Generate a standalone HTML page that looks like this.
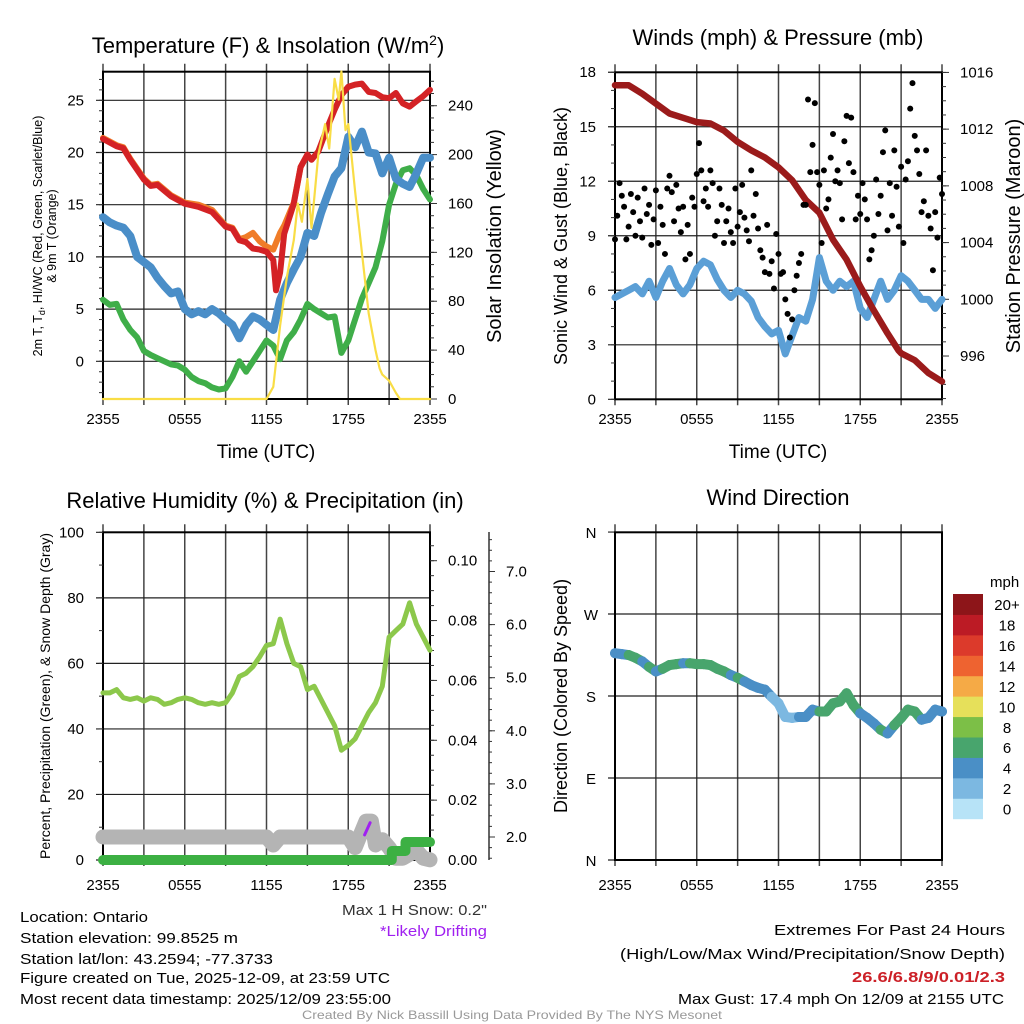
<!DOCTYPE html>
<html><head><meta charset="utf-8"><style>
html,body{margin:0;padding:0;background:#fff;}
svg{display:block;font-family:"Liberation Sans",sans-serif;}
</style></head><body>
<svg id="fig" width="1024" height="1024" viewBox="0 0 1024 1024" xmlns="http://www.w3.org/2000/svg">
<rect width="1024" height="1024" fill="#fff"/>
<text x="268" y="53" font-size="22" text-anchor="middle">Temperature (F) &amp; Insolation (W/m<tspan dy="-8" font-size="14">2</tspan><tspan dy="8">)</tspan></text>
<text x="778" y="45" font-size="22" text-anchor="middle">Winds (mph) &amp; Pressure (mb)</text>
<text x="265" y="508" font-size="22" text-anchor="middle">Relative Humidity (%) &amp; Precipitation (in)</text>
<text x="778" y="505" font-size="22" text-anchor="middle">Wind Direction</text>
<text x="266" y="458" font-size="19" text-anchor="middle">Time (UTC)</text>
<text x="778" y="458" font-size="19" text-anchor="middle">Time (UTC)</text>
<text transform="translate(42,236) rotate(-90)" font-size="12.5" text-anchor="middle">2m T, T<tspan font-size="9" dy="3">d</tspan><tspan dy="-3">, HI/WC (Red, Green, Scarlet/Blue)</tspan></text>
<text transform="translate(56,236) rotate(-90)" font-size="12.5" text-anchor="middle">&amp; 9m T (Orange)</text>
<text transform="translate(501,236) rotate(-90)" font-size="20" text-anchor="middle">Solar Insolation (Yellow)</text>
<text transform="translate(567,236) rotate(-90)" font-size="18" text-anchor="middle">Sonic Wind &amp; Gust (Blue, Black)</text>
<text transform="translate(1020,236) rotate(-90)" font-size="20" text-anchor="middle">Station Pressure (Maroon)</text>
<text transform="translate(50,696) rotate(-90)" font-size="14" text-anchor="middle">Percent, Precipitation (Green), &amp; Snow Depth (Gray)</text>
<text transform="translate(567,696) rotate(-90)" font-size="18" text-anchor="middle">Direction (Colored By Speed)</text>
<g font-size="15">
<text x="20" y="922" textLength="128" lengthAdjust="spacingAndGlyphs">Location: Ontario</text>
<text x="20" y="943" textLength="218" lengthAdjust="spacingAndGlyphs">Station elevation: 99.8525 m</text>
<text x="20" y="964" textLength="253" lengthAdjust="spacingAndGlyphs">Station lat/lon: 43.2594; -77.3733</text>
<text x="20" y="983" textLength="370" lengthAdjust="spacingAndGlyphs">Figure created on Tue, 2025-12-09, at 23:59 UTC</text>
<text x="20" y="1004" textLength="371" lengthAdjust="spacingAndGlyphs">Most recent data timestamp: 2025/12/09 23:55:00</text>
<text x="342" y="915" fill="#333" textLength="145" lengthAdjust="spacingAndGlyphs">Max 1 H Snow: 0.2"</text>
<text x="380" y="936" fill="#a020f0" textLength="107" lengthAdjust="spacingAndGlyphs">*Likely Drifting</text>
<text x="774" y="935" textLength="231" lengthAdjust="spacingAndGlyphs">Extremes For Past 24 Hours</text>
<text x="620" y="959" textLength="385" lengthAdjust="spacingAndGlyphs">(High/Low/Max Wind/Precipitation/Snow Depth)</text>
<text x="852" y="982" fill="#cc2027" font-weight="bold" textLength="153" lengthAdjust="spacingAndGlyphs">26.6/6.8/9/0.01/2.3</text>
<text x="678" y="1004" textLength="326" lengthAdjust="spacingAndGlyphs">Max Gust: 17.4 mph On 12/09 at 2155 UTC</text>
<text x="302" y="1019" font-size="12" fill="#999" textLength="420" lengthAdjust="spacingAndGlyphs">Created By Nick Bassill Using Data Provided By The NYS Mesonet</text>
</g>
</svg>
<script>
// ---------- data ----------
const xLabels = ["2355","0555","1155","1755","2355"];
const halfHours = [0,0.5,1,1.5,2,2.5,3,3.5,4,4.5,5,5.5,6,6.5,7,7.5,8,8.5,9,9.5,10,10.5,11,11.5,12,12.5,13,13.5,14,14.5,15,15.5,16,16.5,17,17.5,18,18.5,19,19.5,20,20.5,21,21.5,22,22.5,23,23.5,24];
const redTimes = [0,1,1.5,2,3,3.5,4,5,6,7,8,9,9.5,10,10.5,11,11.5,12,12.5,12.7,13,13.3,14,14.5,15,15.3,15.8,16.5,17,17.5,18,18.5,19,19.5,20,20.5,21,21.5,22,22.5,23,23.5,24];
const redTemp = [21.3,20.6,20.4,19.3,17.4,16.8,16.9,15.8,15.1,14.8,14.3,12.9,12.7,11.6,11.4,10.8,10.7,10.5,9.7,6.8,8.5,12.2,15.1,18.6,19.8,19.3,20.1,22.5,24.1,25.5,26.3,26.5,26.6,25.8,25.7,25.3,25.2,25.7,24.7,24.4,24.9,25.4,26.0];
const orangeTimes = [0,1,1.5,2,3,3.5,4,5,6,7,8,9,9.5,10,10.5,11,11.5,12,12.5,13,13.3,14,14.5,15];
const orangeTemp = [21.4,20.7,20.5,19.4,17.5,16.9,17.0,15.9,15.2,15.0,14.5,13.0,12.8,11.7,11.9,12.3,11.5,11.0,10.7,12.3,13.0,15.2,18.6,19.8];
const dewpoint = [13.8,13.3,13.0,12.8,12.0,10.0,9.5,9.0,8.0,7.2,6.5,6.7,5.0,4.5,4.8,4.5,5.0,4.6,4.0,3.5,2.2,3.5,4.3,4.0,3.5,3.0,5.9,7.5,8.8,10.0,12.3,12.0,14.2,16.0,17.7,18.5,21.5,20.5,22.0,20.0,19.9,18.0,19.5,17.5,17.0,16.7,18.0,19.5,19.5];
const feelsLike = [5.9,5.4,5.5,4.0,3.0,2.3,1.0,0.6,0.3,0.0,-0.3,-0.4,-0.8,-1.5,-1.9,-2.1,-2.5,-2.7,-2.6,-1.5,0.0,-1.0,0.0,1.0,2.0,1.5,0.2,2.0,2.8,4.0,5.5,5.0,4.6,4.2,4.3,0.8,2.0,4.0,6.0,7.5,9.0,11.5,15.0,17.0,18.3,18.5,17.8,16.5,15.5];
const solarTimes = [0,11.8,12,12.5,13,13.5,14,14.3,14.6,15,15.3,15.8,16.3,16.6,17,17.3,17.5,17.8,18,18.5,19,19.5,20,20.3,20.5,21,21.5,21.8,24];
const solar = [0,0,0,10,60,100,130,160,145,180,140,200,225,205,262,245,268,220,225,170,120,70,40,25,20,15,5,0,0];
const windSpeed = [5.6,5.8,6.0,6.2,5.8,6.5,5.6,6.5,7.2,6.3,5.8,6.3,7.2,7.6,7.4,6.6,6.0,5.6,6.0,5.8,5.4,4.5,4.0,3.6,3.8,2.5,3.5,4.5,4.3,5.5,7.8,6.5,6.0,6.5,6.2,6.5,5.0,4.5,5.5,6.5,5.5,6.0,6.8,6.5,6.0,5.5,5.5,5.0,5.5];
const gusts = [8.8,10.1,11.9,11.2,10.6,8.8, 9.5,11.3,10.3,9.0,11.1,9.8, 8.9,11.6,10.2,10.7,8.5,9.9, 11.5,8.6,10.6,9.6,8.0,11.6, 12.3,11.4,9.8,11.8,10.5,9.2, 10.6,7.7,9.6,8.0,11.1,10.6, 12.4,14.1,12.6,10.9,11.6,10.6, 12.6,11.9,9.0,9.8,11.6,10.7, 8.6,9.8,10.5,9.2,8.6,11.6, 9.5,10.3,11.8,10.0,9.3,8.7, 12.6,10.1,11.3,9.4,8.2,7.8, 7.0,9.6,6.9,7.6,6.1,9.1, 8.0,6.9,7.0,5.5,4.7,3.4, 4.4,6.0,6.8,7.5,8.0,10.7, 10.7,16.5,12.5,14.0,16.3,12.5, 11.8,8.6,12.6,10.5,11.0,13.3, 14.6,12.0,12.6,11.9,9.9,14.2, 15.6,13.0,15.5,12.5,9.9,11.2, 10.2,11.9,11.0,9.9,7.7,8.2, 9.0,12.1,10.2,11.2,13.6,14.8, 9.3,11.9,10.1,13.7,11.7,9.5, 12.8,8.6,12.1,13.1,16.0,17.4, 14.5,13.7,12.4,10.3,10.9,13.7, 10.1,9.4,7.1,10.3,8.9,12.2, 11.3];
const pressureHours = [0,1,2,3,4,5,6,7,8,9,10,11,12,13,14,15,16,17,18,19,20,20.8,21,22,23,24];
const pressure = [1015.1,1015.1,1014.5,1013.8,1013.1,1012.8,1012.5,1012.4,1011.9,1011.1,1010.5,1010.0,1009.3,1008.4,1007.0,1006.1,1004.2,1002.8,1000.9,999.2,997.6,996.4,996.2,995.7,994.8,994.2];
const humidity = [51,51,52,49.5,49,49.5,48.5,49.5,49,47.5,48,49,49.5,49,48,47.5,48,47.5,48,51,56,57,59,62,65.5,66,73.5,66,60,59,52,53,49,45,41,33.5,35,37,41,45,48,53,68,70,72,78.5,72,68,64];
const snowTimes = [0,12,12.5,13,18,18.5,19.3,19.7,20,20.5,21,21.5,22,23,23.5,24];
const snowDepth = [2.0,2.0,1.85,2.0,2.0,1.8,2.3,2.3,1.85,1.95,1.8,1.6,1.6,1.75,1.6,1.57];
const precipTimes = [0,21.2,21.2,22.2,22.2,24];
const precip = [0,0,0.003,0.003,0.006,0.006];
const driftTimes = [19.2,19.6];
const driftSnow = [2.04,2.27];
const windDir = [227,226,225,222,218,212,207,210,214,215,216,216,215,215,214,210,207,203,200,196,192,189,187,179,172,157,156,157,157,165,163,163,172,174,183,170,161,156,150,143,139,148,156,165,163,154,156,165,163];
const speedBinLabels = ["0","2","4","6","8","10","12","14","16","18","20+"];
const speedBinColors = ["#b7e3f7","#7cb8e1","#4a8fc6","#48a56d","#7cbf47","#e6e05a","#f5aa46","#ee6330","#dc3a2b","#bc1b25","#8d1519"];

// ---------- helpers ----------
const NS = "http://www.w3.org/2000/svg";
const svg = document.getElementById("fig");
function mk(tag, attrs, parent){
  const e = document.createElementNS(NS, tag);
  for (const k in attrs) e.setAttribute(k, attrs[k]);
  (parent||svg).appendChild(e);
  return e;
}
function poly(xs, ys, fx, fy, color, w, name, parent){
  let d = "";
  for (let i=0;i<xs.length;i++) d += (i?"L":"M") + fx(xs[i]).toFixed(1) + "," + fy(ys[i]).toFixed(1);
  const p = mk("path", {d:d, fill:"none", stroke:color, "stroke-width":w, "stroke-linejoin":"round", "stroke-linecap":"round"}, parent);
  
  
  return p;
}
function panelFrame(x0, x1, yTop, yBot, yGridVals, fyGrid, fx, labelY, name){
  const g = mk("g", {});
  
  
  for (let h=0; h<=24; h+=3){
    const x = fx(h);
    const l = mk("line", {x1:x, x2:x, y1:yTop-8, y2:yBot+6, stroke:"#444", "stroke-width":1.5}, g);
    
    
  }
  for (let i=0;i<xLabels.length;i++){
    const t = mk("text", {x:fx(i*6), y:labelY, "font-size":15, "text-anchor":"middle"}, g);
    t.textContent = xLabels[i];
    
    
  }
  yGridVals.forEach(v=>{
    const y = fyGrid(v);
    const l = mk("line", {x1:x0-7, x2:x1, y1:y, y2:y, stroke:"#222", "stroke-width":1.2}, g);
    
    
  });
  const r = mk("rect", {x:x0, y:yTop, width:x1-x0, height:yBot-yTop, fill:"none", stroke:"#000", "stroke-width":2}, g);
  
  
  return g;
}
function ticks(x, vals, fy, len, parent, name){
  vals.forEach(v=>{
    const y = fy(v);
    const l = mk("line", {x1:x, x2:x+len, y1:y, y2:y, stroke:"#333", "stroke-width":1}, parent);
    
    
  });
}
function labels(x, vals, fy, anchor, fmt, parent, name){
  vals.forEach(v=>{
    const t = mk("text", {x:x, y:fy(v)+5, "font-size":15, "text-anchor":anchor}, parent);
    t.textContent = fmt(v);
    
    
  });
}
function range(a,b,s){const r=[];for(let v=a;v<=b+1e-9;v+=s)r.push(+v.toFixed(4));return r;}

// ---------- Panel 1: temperature ----------
{
  const x0=103,x1=430,top=71.7,bot=399;
  const fx=h=>x0+h*(x1-x0)/24;
  const fy=v=>361.3-v*10.44;
  const fr=v=>399-v*1.222;
  const g = panelFrame(x0,x1,top,bot,[0,5,10,15,20,25],fy,fx,424,"temperature-panel");
  ticks(x0, range(-3,27,1), fy, -4, g, "left-minor-tick");
  ticks(x1, range(0,260,10), fr, 4, g, "right-minor-tick");
  ticks(x1, range(0,240,40), fr, 7, g, "right-major-tick");
  labels(84,[0,5,10,15,20,25],fy,"end",v=>String(v),g,"y-tick-label");
  labels(448,[0,40,80,120,160,200,240],fr,"start",v=>String(v),g,"solar-tick-label");
  poly(halfHours, feelsLike, fx, fy, "#3fae49", 6, "feels-like-line", g);
  poly(halfHours, dewpoint, fx, fy, "#4a8ec8", 8, "dewpoint-line", g);
  poly(orangeTimes, orangeTemp, fx, fy, "#f07c28", 6, "temp-9m-line", g);
  poly(redTimes, redTemp, fx, fy, "#d42225", 6, "temp-2m-line", g);
  poly(solarTimes, solar, fx, fr, "#f9dd45", 2.2, "solar-line", g);
}

// ---------- Panel 2: winds & pressure ----------
{
  const x0=615,x1=942,top=72.3,bot=399.3;
  const fx=h=>x0+h*(x1-x0)/24;
  const fy=v=>399.3-v*18.17;
  const fp=p=>299.3-(p-1000)*14.18;
  const g = panelFrame(x0,x1,top,bot,[0,3,6,9,12,15,18],fy,fx,424,"winds-panel");
  ticks(x0, range(0,18,1), fy, -4, g, "left-minor-tick");
  ticks(x1, range(993,1016,1), fp, 4, g, "right-minor-tick");
  ticks(x1, range(996,1016,4), fp, 7, g, "right-major-tick");
  labels(596,[0,3,6,9,12,15,18],fy,"end",v=>String(v),g,"y-tick-label");
  labels(960,[996,1000,1004,1008,1012,1016],fp,"start",v=>String(v),g,"pressure-tick-label");
  poly(halfHours, windSpeed, fx, fy, "#5b9fd6", 7, "wind-speed-line", g);
  poly(pressureHours, pressure, fx, fp, "#9b1b1b", 6.5, "pressure-line", g);
  gusts.forEach((v,i)=>{
    const c = mk("circle", {cx:fx(i*24/(gusts.length-1)), cy:fy(v), r:3, fill:"#000"}, g);
    
    
  });
}

// ---------- Panel 3: humidity ----------
{
  const x0=103,x1=430,top=532.3,bot=860;
  const fx=h=>x0+h*(x1-x0)/24;
  const fy=v=>860-v*3.277;
  const fpr=v=>860-v*2993;
  const fs=v=>837-(v-2)*53.1;
  const g = panelFrame(x0,x1,top,bot,[0,20,40,60,80,100],fy,fx,890,"humidity-panel");
  ticks(x0, range(0,100,10), fy, -4, g, "left-minor-tick");
  ticks(x1, range(0,0.105,0.005), fpr, 4, g, "precip-minor-tick");
  ticks(x1, range(0,0.1,0.02), fpr, 7, g, "precip-major-tick");
  labels(84,[0,20,40,60,80,100],fy,"end",v=>String(v),g,"y-tick-label");
  labels(448,[0,0.02,0.04,0.06,0.08,0.1],fpr,"start",v=>v.toFixed(2),g,"precip-tick-label");
  const ax = mk("line",{x1:489,x2:489,y1:532,y2:860,stroke:"#333","stroke-width":1.5},g);
  
  
  ticks(489, range(1.6,7.6,0.2), fs, 3, g, "snow-minor-tick");
  ticks(489, range(2,7,1), fs, 6, g, "snow-major-tick");
  labels(506,[2,3,4,5,6,7],fs,"start",v=>v.toFixed(1),g,"snow-tick-label");
  poly(snowTimes, snowDepth, fx, fs, "#b4b4b4", 15, "snow-depth-line", g);
  poly(precipTimes, precip, fx, fpr, "#3cb043", 10, "precip-line", g);
  poly(halfHours, humidity, fx, fy, "#8cc84b", 5, "humidity-line", g);
  poly(driftTimes, driftSnow, fx, fs, "#a020f0", 3, "drifting-snow-line", g);
}

// ---------- Panel 4: wind direction ----------
{
  const x0=615,x1=942,top=532.3,bot=860;
  const fx=h=>x0+h*(x1-x0)/24;
  const fd=d=>860-d*0.911;
  const g = panelFrame(x0,x1,top,bot,[0,90,180,270,360],fd,fx,890,"direction-panel");
  const dl=["N","E","S","W","N"];
  [0,90,180,270,360].forEach((d,i)=>{
    const t = mk("text",{x:591,y:fd(d)+6,"font-size":15,"text-anchor":"middle"},g);
    t.textContent = dl[i];
    
    
  });
  const col = s=>speedBinColors[Math.max(0,Math.min(10,Math.floor(s/2)))];
  for (let i=0;i<windDir.length-1;i++){
    const l = mk("line",{x1:fx(halfHours[i]),y1:fd(windDir[i]),x2:fx(halfHours[i+1]),y2:fd(windDir[i+1]),stroke:col(windSpeed[i]),"stroke-width":10,"stroke-linecap":"round"},g);
    
    
  }
  for (let i=0;i<windDir.length;i++){
    const c = mk("circle",{cx:fx(halfHours[i]),cy:fd(windDir[i]),r:5,fill:col(windSpeed[i])},g);
    
    
  }
  const cb = mk("g",{});
  
  
  const t0 = mk("text",{x:990,y:587,"font-size":15,"text-anchor":"start"},cb);
  t0.textContent = "mph";
  
  
  const n = speedBinColors.length, bh = (818.7-594)/n;
  for (let i=0;i<n;i++){
    const y = 594 + (n-1-i)*bh;
    const r = mk("rect",{x:953,y:y,width:30,height:bh+0.5,fill:speedBinColors[i]},cb);
    
    
    const t = mk("text",{x:1007,y:y+bh/2+6,"font-size":15,"text-anchor":"middle"},cb);
    t.textContent = speedBinLabels[i];
    
    
  }
}
</script>
</body></html>
